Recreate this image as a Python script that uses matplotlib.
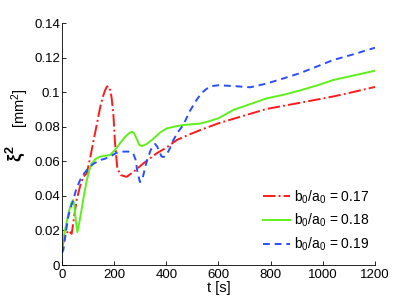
import matplotlib
matplotlib.use("Agg")
import matplotlib.pyplot as plt
from matplotlib.ticker import FuncFormatter

plt.rcParams['font.family'] = ['Liberation Sans', 'DejaVu Sans']
plt.rcParams['mathtext.fontset'] = 'custom'
plt.rcParams['mathtext.rm'] = 'Liberation Sans'
plt.rcParams['mathtext.it'] = 'Liberation Sans:italic'
plt.rcParams['mathtext.bf'] = 'Liberation Sans:bold'

# data
t_red = [0, 10, 24, 37, 56, 70, 82, 95, 108, 120, 133, 146, 156, 165, 172, 178, 185,
         190, 197, 203, 212, 225, 248, 275, 312, 363, 401, 440, 480, 529, 600, 700,
         785, 900, 1040, 1100, 1200]
v_red = [0.010, 0.016, 0.020, 0.018, 0.0376, 0.046, 0.051, 0.053, 0.062, 0.0713,
         0.081, 0.091, 0.097, 0.101, 0.1032, 0.1035, 0.101, 0.097, 0.087, 0.071,
         0.056, 0.052, 0.051, 0.054, 0.0588, 0.0646, 0.068, 0.0723, 0.075, 0.078,
         0.082, 0.0865, 0.0903, 0.0935, 0.0975, 0.0995, 0.103]

t_green = [0, 11, 25, 36, 43, 48, 52, 59, 67, 75, 85, 95, 105, 114, 130, 146, 165,
           184, 203, 222, 240, 255, 267, 275, 285, 296, 306, 325, 350, 375, 401, 430,
           465, 529, 560, 600, 657, 720, 785, 850, 913, 980, 1040, 1120, 1200]
v_green = [0.010, 0.020, 0.030, 0.036, 0.0376, 0.034, 0.027, 0.019, 0.025, 0.032,
           0.041, 0.049, 0.055, 0.0588, 0.0615, 0.0627, 0.0632, 0.0636, 0.0665,
           0.0704, 0.0738, 0.076, 0.0771, 0.0765, 0.0735, 0.0695, 0.0688, 0.070, 0.073,
           0.0765, 0.079, 0.080, 0.081, 0.0818, 0.083, 0.0849, 0.0897, 0.093, 0.0964,
           0.0985, 0.101, 0.104, 0.107, 0.1097, 0.1124]

t_blue = [0, 5, 15, 24, 33, 43, 55, 69, 85, 101, 120, 146, 165, 184, 210, 235, 255,
          273, 282, 290, 299, 307, 315, 323, 331, 340, 350, 357, 365, 375, 382, 390,
          400, 412, 427, 445, 465, 490, 516, 535, 555, 575, 600, 660, 721, 785, 850,
          913, 980, 1040, 1120, 1200]
v_blue = [0.007, 0.0087, 0.019, 0.028, 0.033, 0.0376, 0.044, 0.049, 0.053, 0.056,
          0.0585, 0.0607, 0.0615, 0.0627, 0.065, 0.0656, 0.0656, 0.0646, 0.061, 0.053,
          0.048, 0.049, 0.054, 0.059, 0.0627, 0.0665, 0.069, 0.070, 0.0685, 0.065,
          0.0627, 0.0625, 0.0635, 0.067, 0.0723, 0.077, 0.081, 0.089, 0.0955, 0.0995,
          0.102, 0.1035, 0.104, 0.1035, 0.1028, 0.105, 0.108, 0.111, 0.115, 0.1186,
          0.122, 0.1257]

labels = ['b$_0$/a$_0$ = 0.17', 'b$_0$/a$_0$ = 0.18', 'b$_0$/a$_0$ = 0.19']

W, H = 414, 299
fig = plt.figure(figsize=(W / 100, H / 100), dpi=100)
ax = fig.add_axes([62 / W, 1 - 265 / H, (375 - 62) / W, (265 - 23) / H])

ax.plot(t_red, v_red, '-.', color='#ff1a1a', lw=1.4, label=labels[0])
ax.plot(t_green, v_green, '-', color='#5ef01a', lw=1.4, label=labels[1])
ax.plot(t_blue, v_blue, '--', color='#2a4dff', lw=1.4, dashes=(3.5, 2.5), label=labels[2])

ax.set_xlim(0, 1200)
ax.set_ylim(0, 0.14)
ax.set_xticks([0, 200, 400, 600, 800, 1000, 1200])
ax.set_yticks([0, 0.02, 0.04, 0.06, 0.08, 0.1, 0.12, 0.14])
ax.yaxis.set_major_formatter(FuncFormatter(lambda v, p: '%g' % round(v, 4)))
ax.tick_params(direction='in', length=3, width=0.6, labelsize=9.5)
ax.tick_params(axis='x', pad=3)
ax.tick_params(axis='y', pad=1.5)
for s in ['top', 'right']:
    ax.spines[s].set_visible(False)
for s in ['left', 'bottom']:
    ax.spines[s].set_linewidth(0.6)

ax.set_xlabel('t [s]', fontsize=10.5, labelpad=0)

# y label: large bold xi^2 followed by [mm^2]
fig.text(15 / W, 1 - 154 / H, r'$\mathbf{\xi^2}$', fontsize=13, rotation=90,
         ha='center', va='center')
fig.text(20 / W, 1 - 108 / H, '[mm$^2$]', fontsize=10.5, rotation=90,
         ha='center', va='center')

ax.legend(loc='lower right', frameon=False, fontsize=10, handlelength=2.0,
          handletextpad=0.25, labelspacing=0.45, borderaxespad=0.3,
          bbox_to_anchor=(1.013, 0.01))

fig.savefig('out.png', dpi=100)
